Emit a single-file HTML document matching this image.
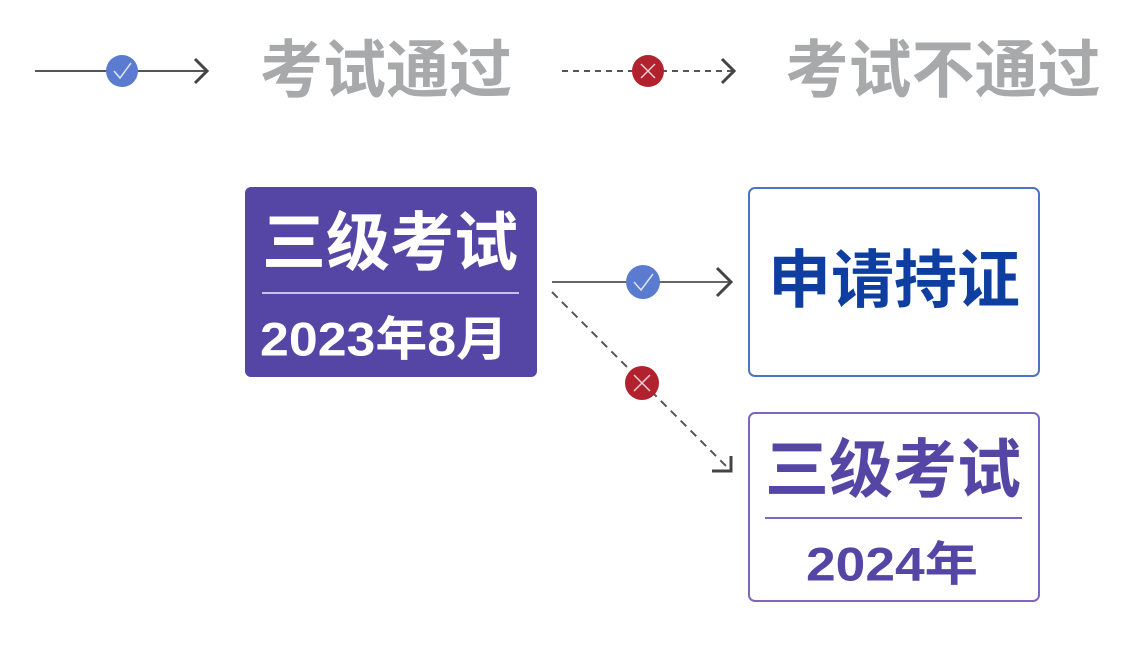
<!DOCTYPE html>
<html><head><meta charset="utf-8"><style>
html,body{margin:0;padding:0;background:#fff;width:1126px;height:645px;overflow:hidden}
text{font-family:"Liberation Sans","Noto Sans CJK SC",sans-serif}
</style></head><body>
<svg width="1126" height="645" viewBox="0 0 1126 645" xmlns="http://www.w3.org/2000/svg">
<line x1="35" y1="71" x2="207" y2="71" stroke="#555" stroke-width="2"/>
<polyline points="195,59 207,71 195,83" fill="none" stroke="#444" stroke-width="3"/>
<circle cx="122" cy="71" r="16" fill="#5b7bd0"/>
<polyline points="114,71 120,78 131,63" fill="none" stroke="#dfe4f5" stroke-width="1.5"/>
<text x="386" y="71" font-size="63" font-weight="bold" fill="#a8a9ab" text-anchor="middle" dominant-baseline="central">考试通过</text>
<line x1="562" y1="71" x2="734" y2="71" stroke="#555" stroke-width="2" stroke-dasharray="6,5"/>
<polyline points="722,59 734,71 722,83" fill="none" stroke="#444" stroke-width="3"/>
<circle cx="648" cy="71" r="16" fill="#b2222e"/>
<path d="M641 64 L655 78 M655 64 L641 78" stroke="#f0d0d3" stroke-width="1.5"/>
<text x="943" y="71" font-size="63" font-weight="bold" fill="#a8a9ab" text-anchor="middle" dominant-baseline="central">考试不通过</text>
<rect x="245" y="187" width="292" height="190" rx="6" fill="#5546a6"/>
<text x="390" y="243" font-size="64" font-weight="bold" fill="#fff" text-anchor="middle" dominant-baseline="central">三级考试</text>
<line x1="262" y1="293" x2="519" y2="293" stroke="#c9c1ea" stroke-width="2"/>
<text x="260" y="339" font-size="47" font-weight="bold" fill="#fff" dominant-baseline="central" textLength="248" lengthAdjust="spacingAndGlyphs">2023年8月</text>
<rect x="749" y="188" width="290" height="188" rx="6" fill="#fff" stroke="#4b74c9" stroke-width="2"/>
<text x="894" y="281" font-size="63" font-weight="bold" fill="#0d3ea0" text-anchor="middle" dominant-baseline="central">申请持证</text>
<rect x="749" y="413" width="290" height="188" rx="6" fill="#fff" stroke="#7d66c1" stroke-width="2"/>
<text x="893" y="470" font-size="64" font-weight="bold" fill="#5546a6" text-anchor="middle" dominant-baseline="central">三级考试</text>
<line x1="765" y1="518" x2="1022" y2="518" stroke="#7d66c1" stroke-width="2"/>
<text x="806" y="564" font-size="47" font-weight="bold" fill="#5546a6" dominant-baseline="central" textLength="172" lengthAdjust="spacingAndGlyphs">2024年</text>
<line x1="552" y1="282" x2="731" y2="282" stroke="#666" stroke-width="2"/>
<polyline points="717,268 731,282 717,296" fill="none" stroke="#444" stroke-width="3"/>
<circle cx="643" cy="282" r="17" fill="#5b7bd0"/>
<polyline points="634,282 641,290 653,274" fill="none" stroke="#dfe4f5" stroke-width="1.5"/>
<line x1="552" y1="292" x2="730" y2="470" stroke="#555" stroke-width="2" stroke-dasharray="8,6"/>
<polyline points="731,456 731,471 712,471" fill="none" stroke="#444" stroke-width="3"/>
<circle cx="642" cy="383" r="17" fill="#b2222e"/>
<path d="M634 375 L650 391 M650 375 L634 391" stroke="#f0d0d3" stroke-width="1.5"/>
</svg>
</body></html>
